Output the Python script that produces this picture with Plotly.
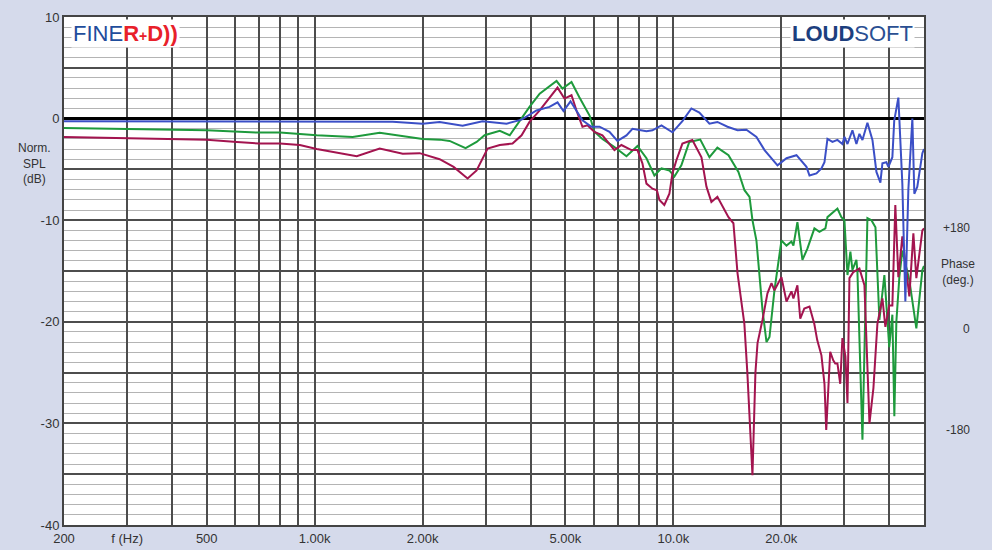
import math
import plotly.graph_objects as go

# ---------------- data ----------------
blue_f = [200, 478, 1650, 2000, 2230, 2585, 2938, 3428, 3775, 4155,
          4515, 4755, 4940, 5168, 5370, 5580, 5912, 6225, 6637, 6986,
          7402, 7692, 8416, 8747, 9267, 9943, 10600, 11230, 11820, 12610,
          13270, 14160, 15100, 15990, 17050, 17960, 19520, 20680, 22050, 23510,
          23970, 25070, 25880, 26390, 26900, 27780, 28680, 29610, 30000, 30590,
          31580, 32400, 33030, 33680, 34770, 35910, 36840, 37790, 38280, 39270,
          39780, 40810, 41300, 42410, 43510, 44360, 45220, 46400, 46990, 47900,
          49480, 50000]
blue_db = [-0.25, -0.3, -0.3, -0.5, -0.33, -0.7, -0.27, -0.5, -0.1, 0.8,
           1.15, 1.6, 0.75, 1.7, 0.8, -0.17, -0.8, -0.8, -1.3, -2.2,
           -1.65, -1.0, -1.25, -1.15, -0.66, -1.35, -0.25, 1.0, 0.6, -0.5,
           -0.33, -0.8, -1.15, -1.1, -1.8, -3.1, -4.6, -3.9, -3.6, -4.75,
           -5.6, -5.4, -4.9, -4.3, -2.0, -2.3, -2.1, -2.5, -1.8, -2.5,
           -1.15, -2.5, -1.5, -2.1, -0.4, -2.1, -5.25, -6.3, -4.4, -4.3,
           -4.75, -3.8, -0.2, 2.06, -6.4, -18.0, -7.0, 0.0, -7.4, -6.7,
           -3.4, -3.0]

green_f = [200, 500, 700, 800, 1013, 1276, 1518, 1725, 2000, 2230,
           2378, 2635, 2828, 2977, 3282, 3498, 3731, 3972, 4240, 4725,
           4909, 5201, 5470, 5840, 6027, 6344, 6852, 7402, 7943, 8416,
           8855, 9267, 9750, 10070, 10530, 11080, 11890, 12610, 13270, 14250,
           15190, 15790, 16310, 16620, 17050, 17730, 18190, 18540, 19140, 20020,
           20680, 21350, 21620, 22180, 22910, 23650, 24740, 25550, 26550, 26900,
           28680, 29420, 30000, 30590, 31170, 31580, 32400, 32610, 33680, 34770,
           35680, 36610, 37550, 38770, 39530, 40000, 40810, 41330, 41870, 42680,
           43510, 45510, 47600, 48530, 49480, 50000]
green_db = [-0.92, -1.15, -1.38, -1.38, -1.64, -1.8, -1.4, -1.7, -2.0, -2.07,
            -2.2, -2.9, -2.3, -1.64, -1.2, -1.64, -0.17, 1.15, 2.46, 3.7,
            2.95, 3.6, 2.1, 0.3, -1.3, -2.0, -2.8, -3.7, -2.7, -3.9,
            -5.6, -4.9, -5.1, -5.7, -4.6, -2.3, -2.07, -3.8, -2.85, -3.6,
            -5.25, -7.05, -7.7, -10.0, -12.0, -18.85, -22.0, -21.5, -16.9, -12.0,
            -12.5, -12.1, -12.5, -10.2, -13.9, -12.8, -10.8, -11.15, -10.8, -9.7,
            -8.85, -9.7, -10.0, -15.4, -13.1, -14.9, -13.9, -15.1, -31.6, -9.8,
            -10.0, -10.7, -19.8, -15.4, -19.8, -22.5, -19.3, -29.3, -20.0, -15.6,
            -13.0, -15.9, -20.65, -18.0, -14.9, -14.5]

red_f = [200, 500, 607, 700, 800, 909, 1013, 1310, 1518, 1760,
         1962, 2230, 2440, 2669, 2828, 3035, 3282, 3562, 3775, 3972,
         4240, 4515, 4755, 4971, 5201, 5370, 5580, 5762, 6027, 6344,
         6852, 7165, 7641, 7943, 8200, 8416, 8747, 9000, 9147, 9440,
         9750, 9943, 10200, 10600, 11300, 11980, 12370, 12770, 13270, 14250,
         14710, 15100, 15780, 16090, 16620, 16940, 17170, 17730, 18300, 18780,
         19140, 20020, 20680, 21350, 21620, 22180, 22590, 23180, 23970, 24720,
         25190, 25880, 26390, 26690, 27380, 27920, 28280, 28680, 29200, 29610,
         30190, 30590, 30980, 31780, 33030, 34110, 35230, 36140, 37070, 38280,
         39020, 40000, 40810, 41590, 42410, 43510, 44360, 45510, 46700, 47600,
         49480, 50000]
red_db = [-1.8, -2.07, -2.3, -2.46, -2.46, -2.6, -3.0, -3.7, -2.95, -3.45,
          -3.4, -4.0, -4.75, -5.9, -5.1, -2.95, -2.6, -2.46, -1.64, -0.33,
          0.8, 2.1, 3.05, 1.97, 2.3, 0.8, -0.8, -0.66, -1.3, -1.64,
          -3.1, -2.6, -3.1, -3.1, -4.4, -6.4, -6.9, -7.05, -8.0, -8.5,
          -7.4, -5.4, -4.1, -2.46, -2.1, -3.8, -6.7, -8.2, -7.7, -9.7,
          -10.3, -15.2, -20.2, -25.1, -35.1, -25.0, -22.1, -19.8, -17.2, -16.2,
          -16.9, -15.6, -18.0, -17.0, -17.7, -16.4, -19.7, -18.7, -18.5, -20.2,
          -21.8, -23.3, -26.1, -30.65, -22.95, -23.8, -24.1, -24.1, -26.1, -21.6,
          -23.4, -28.0, -15.7, -15.1, -14.75, -16.4, -30.0, -26.5, -20.2, -17.7,
          -20.5, -18.4, -18.4, -8.5, -15.6, -11.6, -14.3, -17.5, -11.3, -15.7,
          -11.0, -10.8]

x_grid = [200, 300, 400, 500, 600, 700, 800, 900, 1000,
          2000, 3000, 4000, 5000, 6000, 7000, 8000, 9000, 10000,
          20000, 30000, 40000, 50000]
x_labels = ["200", "f (Hz)", "", "500", "", "", "", "", "1.00k",
            "2.00k", "", "", "5.00k", "", "", "", "", "10.0k",
            "20.0k", "", "", ""]
y_grid = [-40, -35, -30, -25, -20, -15, -10, -5, 0, 5, 10]
y_labels = ["-40", "", "-30", "", "-20", "", "-10", "", "0", "", "10"]
x_min, x_max = 200, 50000
y_min, y_max = -40, 10

BG = "#d5daeb"

# ---------------- figure ----------------
fig = go.Figure()
for f, db, col in [(green_f, green_db, "#1e9a3c"),
                   (red_f, red_db, "#a3144f"),
                   (blue_f, blue_db, "#3b4fc6")]:
    fig.add_trace(go.Scatter(x=f, y=db, mode="lines",
                             line=dict(color=col, width=2), hoverinfo="skip"))

font_fam = "Arial, Liberation Sans, sans-serif"
# page body has an 8px default margin -> figure is 8px smaller, margins shifted
fig.update_layout(
    width=984, height=542,
    margin=dict(l=56, r=68, t=9, b=25, autoexpand=False),
    paper_bgcolor=BG, plot_bgcolor="white",
    showlegend=False,
    font=dict(family=font_fam, size=13, color="#333333"),
)
fig.update_xaxes(
    type="log", range=[math.log10(x_min), math.log10(x_max)],
    tickmode="array", tickvals=x_grid, ticktext=x_labels,
    showgrid=True, gridcolor="#4d4d4d", gridwidth=1.5,
    showline=True, mirror=True, linecolor="#444444", linewidth=2,
    ticks="", zeroline=False, tickfont=dict(size=13, color="#333"),
    automargin=False,
)
fig.update_yaxes(
    range=[y_min, y_max],
    tickmode="array", tickvals=y_grid, ticktext=y_labels,
    showgrid=True, gridcolor="#4d4d4d", gridwidth=1.5,
    minor=dict(dtick=1, tick0=0, showgrid=True, gridcolor="#b4b4b4", gridwidth=1.2),
    zeroline=True, zerolinecolor="black", zerolinewidth=3,
    showline=True, mirror=True, linecolor="#444444", linewidth=2,
    ticks="", tickfont=dict(size=13, color="#333"),
    automargin=False,
)

ann = [
    dict(text="Norm.<br>SPL<br>(dB)", x=-0.034, y=-4.4, xref="paper", yref="y",
         xanchor="center", showarrow=False, font=dict(size=12, color="#333"),
         align="center"),
    dict(text="+180", x=1.056, y=-10.8, xref="paper", yref="y", xanchor="right",
         showarrow=False, font=dict(size=12, color="#333")),
    dict(text="Phase<br>(deg.)", x=1.0395, y=-15.1, xref="paper", yref="y",
         xanchor="center", showarrow=False, font=dict(size=12, color="#333"),
         align="center"),
    dict(text="0", x=1.056, y=-20.7, xref="paper", yref="y", xanchor="right",
         showarrow=False, font=dict(size=12, color="#333")),
    dict(text="-180", x=1.056, y=-30.65, xref="paper", yref="y", xanchor="right",
         showarrow=False, font=dict(size=12, color="#333")),
    dict(text="<span style='color:#1f4d9c'>FINE</span>"
              "<b style='color:#e8202a'>R<span style='font-size:14px'>+</span>D))</b>",
         x=0.008, y=8.4, xref="paper", yref="y", xanchor="left", showarrow=False,
         font=dict(size=22, family=font_fam), bgcolor="white", borderpad=1),
    dict(text="<b style='color:#1c3f7e'>LOUD</b><span style='color:#2a4f92'>SOFT</span>",
         x=0.99, y=8.4, xref="paper", yref="y", xanchor="right", showarrow=False,
         font=dict(size=22, family=font_fam), bgcolor="white", borderpad=1),
]
fig.update_layout(annotations=ann)

fig.write_html("out.html",
               post_script="document.body.style.background='%s';" % BG)
